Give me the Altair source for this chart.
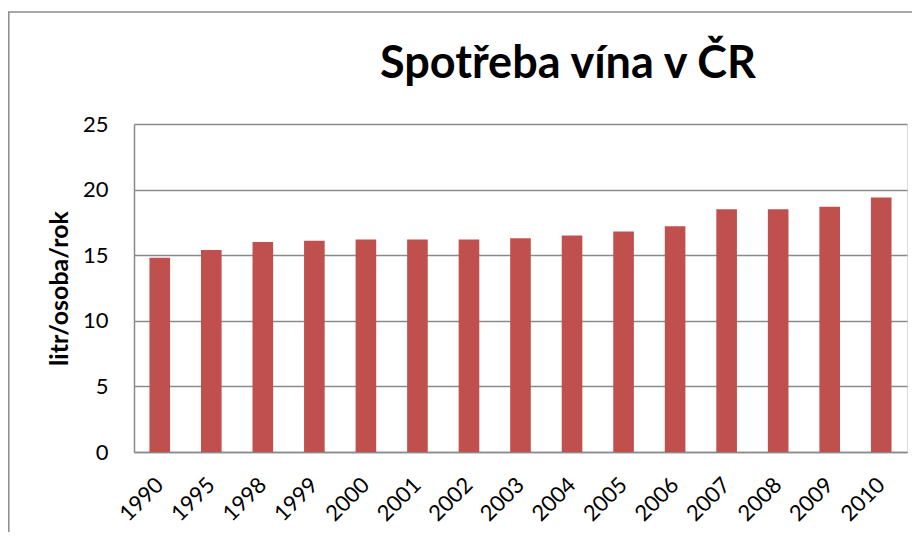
import altair as alt
import pandas as pd

years = ["1990", "1995", "1998", "1999", "2000", "2001", "2002", "2003",
         "2004", "2005", "2006", "2007", "2008", "2009", "2010"]
values = [14.8, 15.4, 16.0, 16.1, 16.2, 16.2, 16.2, 16.3,
          16.5, 16.8, 17.2, 18.5, 18.5, 18.7, 19.4]
title_text = "Spotřeba vína v ČR"
y_title = "litr/osoba/rok"

df = pd.DataFrame({"rok": years, "spotreba": values})

W, H = 773, 328
FONT = "Lato"

bars = alt.Chart(df).mark_bar(color="#C0504D").encode(
    x=alt.X("rok:N", sort=years,
            scale=alt.Scale(paddingInner=0.6, paddingOuter=0.3),
            axis=alt.Axis(title=None, labelAngle=315, labelAlign="right",
                          labelBaseline="middle", labelPadding=29,
                          labelFontSize=22, labelColor="#000000",
                          labelFont=FONT, ticks=False,
                          domainColor="#8a8a8a", domainWidth=1.5)),
    y=alt.Y("spotreba:Q",
            scale=alt.Scale(domain=[0, 25], nice=False),
            axis=alt.Axis(title=y_title, values=[0, 5, 10, 15, 20, 25],
                          titleAngle=270, titleX=-75, titleY=H / 2,
                          titleAlign="center", titleBaseline="middle",
                          titleFontSize=25, titleFont=FONT, titleFontWeight="bold",
                          titleColor="#000000",
                          labelFontSize=22, labelFont=FONT, labelColor="#000000",
                          labelPadding=26, ticks=False,
                          grid=True, gridColor="#8a8a8a", gridWidth=1.5,
                          domainColor="#8a8a8a", domainWidth=1.5)),
)

frame = alt.Chart(pd.DataFrame({"f": [0]})).mark_rect(
    fill=None, stroke="#8a8a8a", strokeWidth=1.5, clip=False
).encode(
    x=alt.value(-125.2), x2=alt.value(800),
    y=alt.value(-112), y2=alt.value(440),
)

title = alt.Chart(pd.DataFrame({"t": [0]})).mark_text(
    font=FONT, fontSize=45, fontWeight="bold", color="#000000",
    align="center", baseline="alphabetic", clip=False
).encode(
    x=alt.value(434), y=alt.value(-46), text=alt.value(title_text)
)

chart = alt.layer(frame, bars, title).properties(
    width=W, height=H,
    autosize=alt.AutoSizeParams(type="none"),
    padding={"left": 126, "top": 116, "right": 5, "bottom": 80},
).configure_view(stroke=None).configure(background="white")

chart.save("out.html", embed_options={"renderer": "svg", "actions": False})
